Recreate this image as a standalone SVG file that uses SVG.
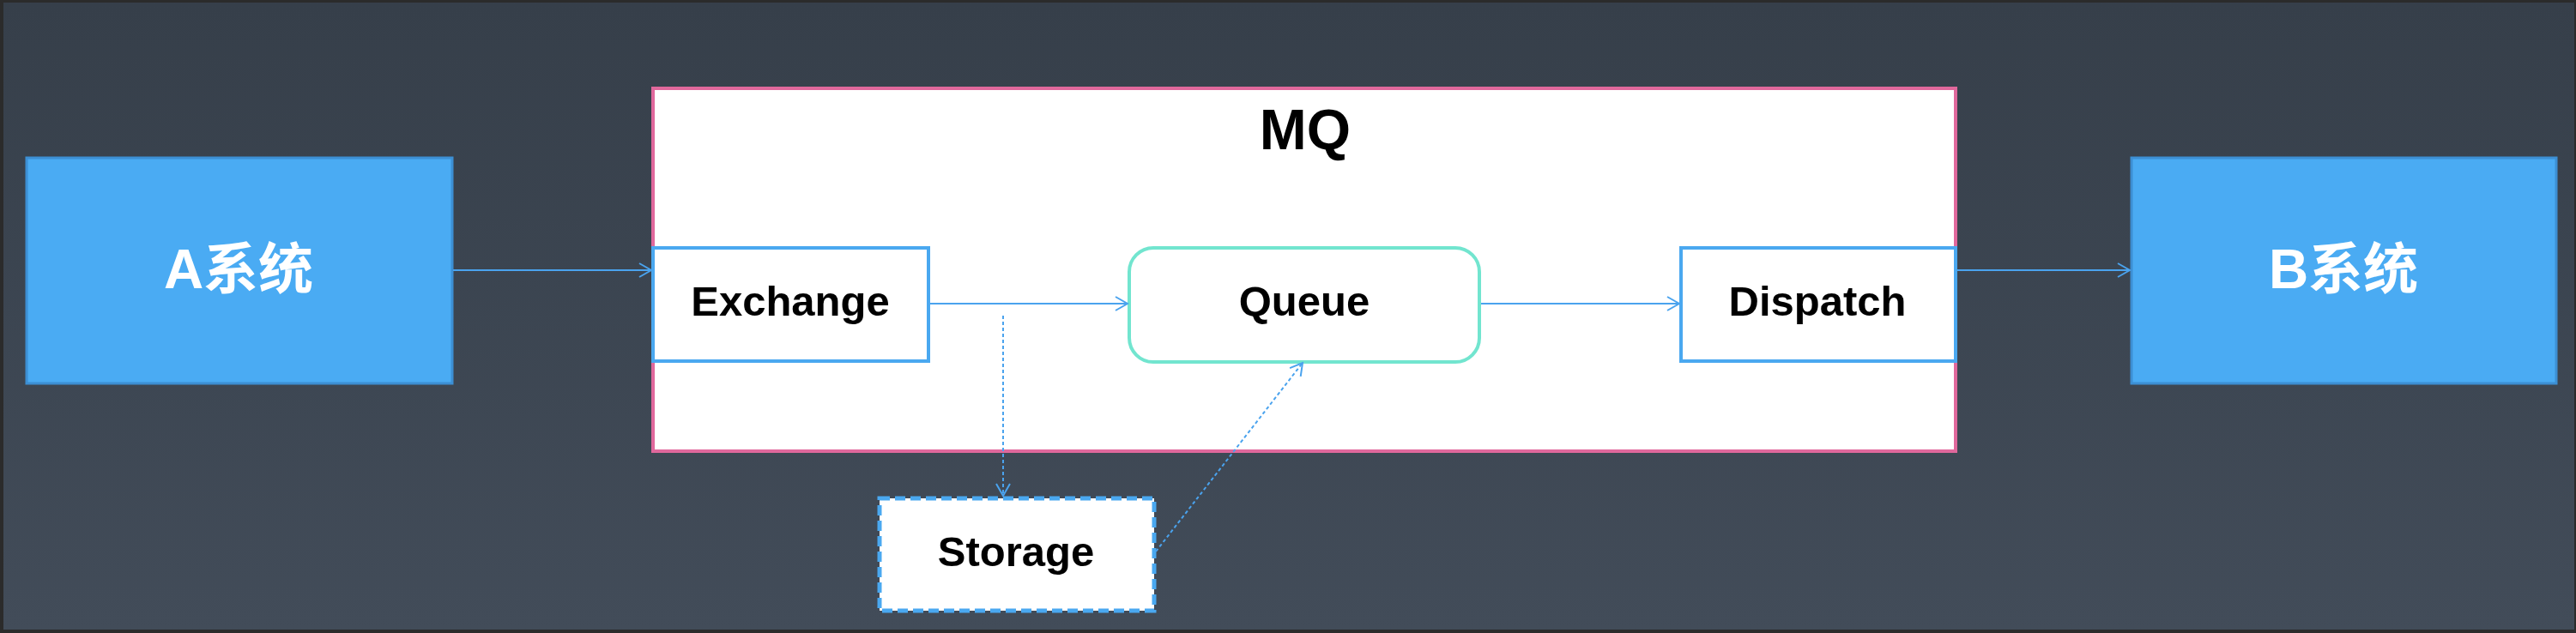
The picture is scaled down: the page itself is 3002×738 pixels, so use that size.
<svg xmlns="http://www.w3.org/2000/svg" width="3002" height="738" viewBox="0 0 3002 738">
<defs>
<linearGradient id="bg" x1="0" y1="0" x2="0" y2="1">
<stop offset="0" stop-color="#363f4a"/>
<stop offset="1" stop-color="#424c59"/>
</linearGradient>
<marker id="arr" viewBox="-16 -10 18 20" refX="0" refY="0" markerWidth="18" markerHeight="20" markerUnits="userSpaceOnUse" orient="auto">
<path d="M-14,-8 L0,0 L-14,8" fill="none" stroke="#4aa3ee" stroke-width="2"/>
</marker>
</defs>
<style>
.sys{fill:#4aabf3;stroke:#3c8fd4;stroke-width:3}
.sysT{font-family:"Liberation Sans","Noto Sans CJK SC",sans-serif;font-weight:bold;font-size:64px;fill:#ffffff;text-anchor:middle}
.box{fill:#ffffff;stroke:#4aa8f0;stroke-width:4}
.lbl{font-family:"Liberation Sans",Arial,sans-serif;font-weight:bold;font-size:49px;fill:#000000;text-anchor:middle}
.ln{fill:none;stroke:#4aa3ee;stroke-width:2;marker-end:url(#arr)}
.dl{fill:none;stroke:#4aa3ee;stroke-width:2;stroke-dasharray:4 3;marker-end:url(#arr)}
</style>
<rect x="0" y="0" width="3002" height="738" fill="#2b2b2b"/>
<rect x="4" y="3" width="2996" height="731" fill="url(#bg)"/>

<g id="mq">
<rect x="761" y="103" width="1518" height="423" fill="#ffffff" stroke="#e0689c" stroke-width="4"/>
<text x="1521" y="174" font-family="Liberation Sans, Arial, sans-serif" font-weight="bold" font-size="66" text-anchor="middle" fill="#000000">MQ</text>
</g>

<g id="a-system">
<rect class="sys" x="31" y="184" width="496" height="263"/>
<text class="sysT" x="278" y="336">A系统</text>
</g>

<g id="b-system">
<rect class="sys" x="2484" y="184" width="495" height="263"/>
<text class="sysT" x="2731" y="336">B系统</text>
</g>

<g id="exchange">
<rect class="box" x="761" y="289" width="321" height="132"/>
<text class="lbl" x="921" y="368">Exchange</text>
</g>

<g id="queue">
<rect x="1316" y="289" width="408" height="133" rx="28" ry="28" fill="#ffffff" stroke="#72e5cf" stroke-width="4"/>
<text class="lbl" x="1520" y="368">Queue</text>
</g>

<g id="dispatch">
<rect class="box" x="1959" y="289" width="320" height="132"/>
<text class="lbl" x="2118" y="368">Dispatch</text>
</g>

<g id="storage">
<rect x="1025" y="581" width="320" height="131" fill="#ffffff" stroke="#4aa8f0" stroke-width="5" stroke-dasharray="12 6"/>
<text class="lbl" x="1184" y="660">Storage</text>
</g>

<g id="connectors">
<line class="ln" x1="528" y1="315" x2="759" y2="315"/>
<line class="ln" x1="1084" y1="354" x2="1314" y2="354"/>
<line class="ln" x1="1726" y1="354" x2="1957" y2="354"/>
<line class="ln" x1="2281" y1="315" x2="2482" y2="315"/>
<line class="dl" x1="1169" y1="368" x2="1169" y2="578"/>
<line class="dl" x1="1347" y1="643" x2="1518" y2="423"/>
</g>
</svg>
